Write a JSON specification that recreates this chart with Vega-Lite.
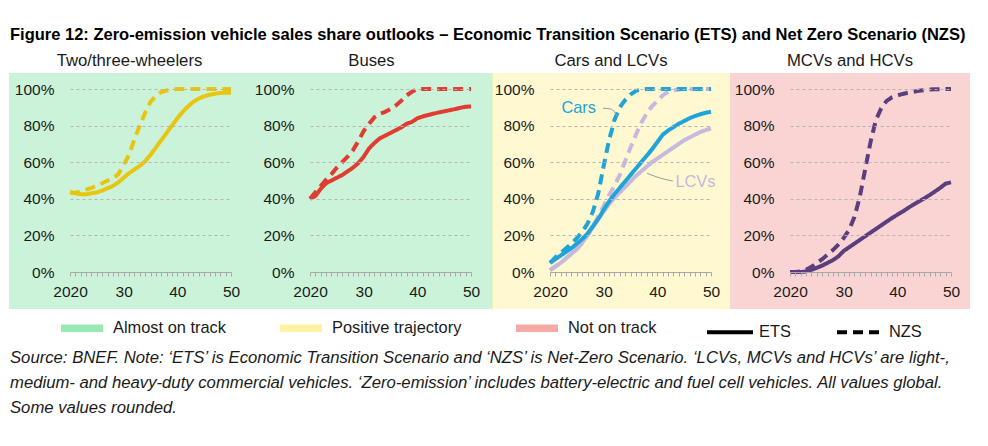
{
  "$schema": "https://vega.github.io/schema/vega-lite/v6.json",
  "background": "white",
  "padding": {"left": 8, "top": 26, "right": 5, "bottom": 5},
  "title": {"text": "Figure 12: Zero-emission vehicle sales share outlooks – Economic Transition Scenario (ETS) and Net Zero Scenario (NZS)", "anchor": "start", "frame": "bounds", "fontSize": 16.5, "fontWeight": "bold", "font": "Liberation Sans", "color": "#000000", "offset": 10, "dx": 1},
  "datasets": {
    "shares": [
      {"series":"Two/three-wheelers","scenario":"ETS","year":2020,"share":43.5},{"series":"Two/three-wheelers","scenario":"ETS","year":2021,"share":43},{"series":"Two/three-wheelers","scenario":"ETS","year":2022,"share":42.5},{"series":"Two/three-wheelers","scenario":"ETS","year":2023,"share":42.5},{"series":"Two/three-wheelers","scenario":"ETS","year":2024,"share":43},{"series":"Two/three-wheelers","scenario":"ETS","year":2025,"share":43.5},{"series":"Two/three-wheelers","scenario":"ETS","year":2026,"share":44.5},{"series":"Two/three-wheelers","scenario":"ETS","year":2027,"share":45.8},{"series":"Two/three-wheelers","scenario":"ETS","year":2028,"share":47},{"series":"Two/three-wheelers","scenario":"ETS","year":2029,"share":49},{"series":"Two/three-wheelers","scenario":"ETS","year":2030,"share":51.5},{"series":"Two/three-wheelers","scenario":"ETS","year":2031,"share":54},{"series":"Two/three-wheelers","scenario":"ETS","year":2032,"share":56},{"series":"Two/three-wheelers","scenario":"ETS","year":2033,"share":58},{"series":"Two/three-wheelers","scenario":"ETS","year":2034,"share":60.5},{"series":"Two/three-wheelers","scenario":"ETS","year":2035,"share":64},{"series":"Two/three-wheelers","scenario":"ETS","year":2036,"share":68},{"series":"Two/three-wheelers","scenario":"ETS","year":2037,"share":72},{"series":"Two/three-wheelers","scenario":"ETS","year":2038,"share":76},{"series":"Two/three-wheelers","scenario":"ETS","year":2039,"share":80},{"series":"Two/three-wheelers","scenario":"ETS","year":2040,"share":84},{"series":"Two/three-wheelers","scenario":"ETS","year":2041,"share":87.5},{"series":"Two/three-wheelers","scenario":"ETS","year":2042,"share":90.5},{"series":"Two/three-wheelers","scenario":"ETS","year":2043,"share":93},{"series":"Two/three-wheelers","scenario":"ETS","year":2044,"share":94.8},{"series":"Two/three-wheelers","scenario":"ETS","year":2045,"share":96},{"series":"Two/three-wheelers","scenario":"ETS","year":2046,"share":96.8},{"series":"Two/three-wheelers","scenario":"ETS","year":2047,"share":97.4},{"series":"Two/three-wheelers","scenario":"ETS","year":2048,"share":97.8},{"series":"Two/three-wheelers","scenario":"ETS","year":2049,"share":98},{"series":"Two/three-wheelers","scenario":"ETS","year":2050,"share":98},
      {"series":"Two/three-wheelers","scenario":"NZS","year":2020,"share":43.5},{"series":"Two/three-wheelers","scenario":"NZS","year":2021,"share":43.3},{"series":"Two/three-wheelers","scenario":"NZS","year":2022,"share":44},{"series":"Two/three-wheelers","scenario":"NZS","year":2023,"share":45},{"series":"Two/three-wheelers","scenario":"NZS","year":2024,"share":46},{"series":"Two/three-wheelers","scenario":"NZS","year":2025,"share":47.2},{"series":"Two/three-wheelers","scenario":"NZS","year":2026,"share":48.5},{"series":"Two/three-wheelers","scenario":"NZS","year":2027,"share":50},{"series":"Two/three-wheelers","scenario":"NZS","year":2028,"share":51},{"series":"Two/three-wheelers","scenario":"NZS","year":2029,"share":53.5},{"series":"Two/three-wheelers","scenario":"NZS","year":2030,"share":58.5},{"series":"Two/three-wheelers","scenario":"NZS","year":2031,"share":64},{"series":"Two/three-wheelers","scenario":"NZS","year":2032,"share":72.5},{"series":"Two/three-wheelers","scenario":"NZS","year":2033,"share":80},{"series":"Two/three-wheelers","scenario":"NZS","year":2034,"share":87},{"series":"Two/three-wheelers","scenario":"NZS","year":2035,"share":93},{"series":"Two/three-wheelers","scenario":"NZS","year":2036,"share":96.3},{"series":"Two/three-wheelers","scenario":"NZS","year":2037,"share":98.3},{"series":"Two/three-wheelers","scenario":"NZS","year":2038,"share":99.2},{"series":"Two/three-wheelers","scenario":"NZS","year":2039,"share":99.7},{"series":"Two/three-wheelers","scenario":"NZS","year":2040,"share":100},{"series":"Two/three-wheelers","scenario":"NZS","year":2050,"share":100},
      {"series":"Buses","scenario":"ETS","year":2020,"share":40},{"series":"Buses","scenario":"ETS","year":2021,"share":41.5},{"series":"Buses","scenario":"ETS","year":2022,"share":45.5},{"series":"Buses","scenario":"ETS","year":2023,"share":48.5},{"series":"Buses","scenario":"ETS","year":2024,"share":50},{"series":"Buses","scenario":"ETS","year":2025,"share":51.5},{"series":"Buses","scenario":"ETS","year":2026,"share":53},{"series":"Buses","scenario":"ETS","year":2027,"share":55},{"series":"Buses","scenario":"ETS","year":2028,"share":57},{"series":"Buses","scenario":"ETS","year":2029,"share":59.5},{"series":"Buses","scenario":"ETS","year":2030,"share":63},{"series":"Buses","scenario":"ETS","year":2031,"share":67.5},{"series":"Buses","scenario":"ETS","year":2032,"share":70.5},{"series":"Buses","scenario":"ETS","year":2033,"share":73},{"series":"Buses","scenario":"ETS","year":2034,"share":74.5},{"series":"Buses","scenario":"ETS","year":2035,"share":76},{"series":"Buses","scenario":"ETS","year":2036,"share":77.5},{"series":"Buses","scenario":"ETS","year":2037,"share":79},{"series":"Buses","scenario":"ETS","year":2038,"share":81},{"series":"Buses","scenario":"ETS","year":2039,"share":82},{"series":"Buses","scenario":"ETS","year":2040,"share":84},{"series":"Buses","scenario":"ETS","year":2041,"share":85},{"series":"Buses","scenario":"ETS","year":2042,"share":85.8},{"series":"Buses","scenario":"ETS","year":2043,"share":86.5},{"series":"Buses","scenario":"ETS","year":2044,"share":87.2},{"series":"Buses","scenario":"ETS","year":2045,"share":87.8},{"series":"Buses","scenario":"ETS","year":2046,"share":88.4},{"series":"Buses","scenario":"ETS","year":2047,"share":89},{"series":"Buses","scenario":"ETS","year":2048,"share":89.7},{"series":"Buses","scenario":"ETS","year":2049,"share":90.3},{"series":"Buses","scenario":"ETS","year":2050,"share":90.5},
      {"series":"Buses","scenario":"NZS","year":2020,"share":40},{"series":"Buses","scenario":"NZS","year":2021,"share":43.5},{"series":"Buses","scenario":"NZS","year":2022,"share":47},{"series":"Buses","scenario":"NZS","year":2023,"share":50.5},{"series":"Buses","scenario":"NZS","year":2024,"share":53.5},{"series":"Buses","scenario":"NZS","year":2025,"share":57},{"series":"Buses","scenario":"NZS","year":2026,"share":60},{"series":"Buses","scenario":"NZS","year":2027,"share":63},{"series":"Buses","scenario":"NZS","year":2028,"share":66.5},{"series":"Buses","scenario":"NZS","year":2029,"share":71.5},{"series":"Buses","scenario":"NZS","year":2030,"share":77},{"series":"Buses","scenario":"NZS","year":2031,"share":81},{"series":"Buses","scenario":"NZS","year":2032,"share":84.5},{"series":"Buses","scenario":"NZS","year":2033,"share":86.5},{"series":"Buses","scenario":"NZS","year":2034,"share":87.5},{"series":"Buses","scenario":"NZS","year":2035,"share":89},{"series":"Buses","scenario":"NZS","year":2036,"share":91},{"series":"Buses","scenario":"NZS","year":2037,"share":93.5},{"series":"Buses","scenario":"NZS","year":2038,"share":96.5},{"series":"Buses","scenario":"NZS","year":2039,"share":98.5},{"series":"Buses","scenario":"NZS","year":2040,"share":100},{"series":"Buses","scenario":"NZS","year":2050,"share":100},
      {"series":"LCVs","scenario":"ETS","year":2020,"share":1},{"series":"LCVs","scenario":"ETS","year":2021,"share":3},{"series":"LCVs","scenario":"ETS","year":2022,"share":5},{"series":"LCVs","scenario":"ETS","year":2023,"share":7.5},{"series":"LCVs","scenario":"ETS","year":2024,"share":10},{"series":"LCVs","scenario":"ETS","year":2025,"share":12.5},{"series":"LCVs","scenario":"ETS","year":2026,"share":16},{"series":"LCVs","scenario":"ETS","year":2027,"share":20},{"series":"LCVs","scenario":"ETS","year":2028,"share":24.5},{"series":"LCVs","scenario":"ETS","year":2029,"share":29},{"series":"LCVs","scenario":"ETS","year":2030,"share":33},{"series":"LCVs","scenario":"ETS","year":2031,"share":37},{"series":"LCVs","scenario":"ETS","year":2032,"share":40.5},{"series":"LCVs","scenario":"ETS","year":2033,"share":43.5},{"series":"LCVs","scenario":"ETS","year":2034,"share":46.5},{"series":"LCVs","scenario":"ETS","year":2035,"share":49.5},{"series":"LCVs","scenario":"ETS","year":2036,"share":52.5},{"series":"LCVs","scenario":"ETS","year":2037,"share":55},{"series":"LCVs","scenario":"ETS","year":2038,"share":57.5},{"series":"LCVs","scenario":"ETS","year":2039,"share":60},{"series":"LCVs","scenario":"ETS","year":2040,"share":62},{"series":"LCVs","scenario":"ETS","year":2041,"share":64},{"series":"LCVs","scenario":"ETS","year":2042,"share":66},{"series":"LCVs","scenario":"ETS","year":2043,"share":68},{"series":"LCVs","scenario":"ETS","year":2044,"share":70},{"series":"LCVs","scenario":"ETS","year":2045,"share":72},{"series":"LCVs","scenario":"ETS","year":2046,"share":73.5},{"series":"LCVs","scenario":"ETS","year":2047,"share":75},{"series":"LCVs","scenario":"ETS","year":2048,"share":76.5},{"series":"LCVs","scenario":"ETS","year":2049,"share":77.5},{"series":"LCVs","scenario":"ETS","year":2050,"share":78.5},
      {"series":"LCVs","scenario":"NZS","year":2020,"share":1},{"series":"LCVs","scenario":"NZS","year":2021,"share":3},{"series":"LCVs","scenario":"NZS","year":2022,"share":5},{"series":"LCVs","scenario":"NZS","year":2023,"share":7.5},{"series":"LCVs","scenario":"NZS","year":2024,"share":10},{"series":"LCVs","scenario":"NZS","year":2025,"share":12.5},{"series":"LCVs","scenario":"NZS","year":2026,"share":16},{"series":"LCVs","scenario":"NZS","year":2027,"share":20.5},{"series":"LCVs","scenario":"NZS","year":2028,"share":25},{"series":"LCVs","scenario":"NZS","year":2029,"share":30.5},{"series":"LCVs","scenario":"NZS","year":2030,"share":36},{"series":"LCVs","scenario":"NZS","year":2031,"share":42},{"series":"LCVs","scenario":"NZS","year":2032,"share":47},{"series":"LCVs","scenario":"NZS","year":2033,"share":53},{"series":"LCVs","scenario":"NZS","year":2034,"share":60.5},{"series":"LCVs","scenario":"NZS","year":2035,"share":68},{"series":"LCVs","scenario":"NZS","year":2036,"share":75},{"series":"LCVs","scenario":"NZS","year":2037,"share":81.5},{"series":"LCVs","scenario":"NZS","year":2038,"share":86.5},{"series":"LCVs","scenario":"NZS","year":2039,"share":90.5},{"series":"LCVs","scenario":"NZS","year":2040,"share":93.5},{"series":"LCVs","scenario":"NZS","year":2041,"share":96.5},{"series":"LCVs","scenario":"NZS","year":2042,"share":98.5},{"series":"LCVs","scenario":"NZS","year":2043,"share":99.3},{"series":"LCVs","scenario":"NZS","year":2044,"share":99.7},{"series":"LCVs","scenario":"NZS","year":2045,"share":100},{"series":"LCVs","scenario":"NZS","year":2050,"share":100},
      {"series":"Cars","scenario":"ETS","year":2020,"share":5},{"series":"Cars","scenario":"ETS","year":2021,"share":7},{"series":"Cars","scenario":"ETS","year":2022,"share":9},{"series":"Cars","scenario":"ETS","year":2023,"share":11},{"series":"Cars","scenario":"ETS","year":2024,"share":13},{"series":"Cars","scenario":"ETS","year":2025,"share":15.5},{"series":"Cars","scenario":"ETS","year":2026,"share":18},{"series":"Cars","scenario":"ETS","year":2027,"share":21},{"series":"Cars","scenario":"ETS","year":2028,"share":25},{"series":"Cars","scenario":"ETS","year":2029,"share":29},{"series":"Cars","scenario":"ETS","year":2030,"share":34},{"series":"Cars","scenario":"ETS","year":2031,"share":38.5},{"series":"Cars","scenario":"ETS","year":2032,"share":42.5},{"series":"Cars","scenario":"ETS","year":2033,"share":46},{"series":"Cars","scenario":"ETS","year":2034,"share":49.5},{"series":"Cars","scenario":"ETS","year":2035,"share":53},{"series":"Cars","scenario":"ETS","year":2036,"share":56.5},{"series":"Cars","scenario":"ETS","year":2037,"share":60},{"series":"Cars","scenario":"ETS","year":2038,"share":63.5},{"series":"Cars","scenario":"ETS","year":2039,"share":67},{"series":"Cars","scenario":"ETS","year":2040,"share":71},{"series":"Cars","scenario":"ETS","year":2041,"share":75},{"series":"Cars","scenario":"ETS","year":2042,"share":77.3},{"series":"Cars","scenario":"ETS","year":2043,"share":79.2},{"series":"Cars","scenario":"ETS","year":2044,"share":81},{"series":"Cars","scenario":"ETS","year":2045,"share":82.5},{"series":"Cars","scenario":"ETS","year":2046,"share":84},{"series":"Cars","scenario":"ETS","year":2047,"share":85.2},{"series":"Cars","scenario":"ETS","year":2048,"share":86.2},{"series":"Cars","scenario":"ETS","year":2049,"share":87},{"series":"Cars","scenario":"ETS","year":2050,"share":87.6},
      {"series":"Cars","scenario":"NZS","year":2020,"share":5},{"series":"Cars","scenario":"NZS","year":2021,"share":8},{"series":"Cars","scenario":"NZS","year":2022,"share":10.5},{"series":"Cars","scenario":"NZS","year":2023,"share":13},{"series":"Cars","scenario":"NZS","year":2024,"share":15.5},{"series":"Cars","scenario":"NZS","year":2025,"share":18.5},{"series":"Cars","scenario":"NZS","year":2026,"share":22},{"series":"Cars","scenario":"NZS","year":2027,"share":26.5},{"series":"Cars","scenario":"NZS","year":2028,"share":33},{"series":"Cars","scenario":"NZS","year":2029,"share":43},{"series":"Cars","scenario":"NZS","year":2030,"share":58},{"series":"Cars","scenario":"NZS","year":2031,"share":72},{"series":"Cars","scenario":"NZS","year":2032,"share":83},{"series":"Cars","scenario":"NZS","year":2033,"share":90},{"series":"Cars","scenario":"NZS","year":2034,"share":94},{"series":"Cars","scenario":"NZS","year":2035,"share":97},{"series":"Cars","scenario":"NZS","year":2036,"share":99},{"series":"Cars","scenario":"NZS","year":2037,"share":99.7},{"series":"Cars","scenario":"NZS","year":2038,"share":100},{"series":"Cars","scenario":"NZS","year":2050,"share":100},
      {"series":"MCVs and HCVs","scenario":"ETS","year":2020,"share":0},{"series":"MCVs and HCVs","scenario":"ETS","year":2021,"share":0},{"series":"MCVs and HCVs","scenario":"ETS","year":2022,"share":0},{"series":"MCVs and HCVs","scenario":"ETS","year":2023,"share":0.3},{"series":"MCVs and HCVs","scenario":"ETS","year":2024,"share":1.2},{"series":"MCVs and HCVs","scenario":"ETS","year":2025,"share":2.3},{"series":"MCVs and HCVs","scenario":"ETS","year":2026,"share":3.5},{"series":"MCVs and HCVs","scenario":"ETS","year":2027,"share":5},{"series":"MCVs and HCVs","scenario":"ETS","year":2028,"share":6.5},{"series":"MCVs and HCVs","scenario":"ETS","year":2029,"share":8.5},{"series":"MCVs and HCVs","scenario":"ETS","year":2030,"share":11.5},{"series":"MCVs and HCVs","scenario":"ETS","year":2031,"share":13.5},{"series":"MCVs and HCVs","scenario":"ETS","year":2032,"share":15.5},{"series":"MCVs and HCVs","scenario":"ETS","year":2033,"share":17.5},{"series":"MCVs and HCVs","scenario":"ETS","year":2034,"share":19.5},{"series":"MCVs and HCVs","scenario":"ETS","year":2035,"share":21.5},{"series":"MCVs and HCVs","scenario":"ETS","year":2036,"share":23.5},{"series":"MCVs and HCVs","scenario":"ETS","year":2037,"share":25.5},{"series":"MCVs and HCVs","scenario":"ETS","year":2038,"share":27.5},{"series":"MCVs and HCVs","scenario":"ETS","year":2039,"share":29.5},{"series":"MCVs and HCVs","scenario":"ETS","year":2040,"share":31.3},{"series":"MCVs and HCVs","scenario":"ETS","year":2041,"share":33},{"series":"MCVs and HCVs","scenario":"ETS","year":2042,"share":35},{"series":"MCVs and HCVs","scenario":"ETS","year":2043,"share":36.8},{"series":"MCVs and HCVs","scenario":"ETS","year":2044,"share":38.5},{"series":"MCVs and HCVs","scenario":"ETS","year":2045,"share":40.2},{"series":"MCVs and HCVs","scenario":"ETS","year":2046,"share":42},{"series":"MCVs and HCVs","scenario":"ETS","year":2047,"share":44},{"series":"MCVs and HCVs","scenario":"ETS","year":2048,"share":46},{"series":"MCVs and HCVs","scenario":"ETS","year":2049,"share":48.3},{"series":"MCVs and HCVs","scenario":"ETS","year":2050,"share":49},
      {"series":"MCVs and HCVs","scenario":"NZS","year":2020,"share":0},{"series":"MCVs and HCVs","scenario":"NZS","year":2021,"share":0},{"series":"MCVs and HCVs","scenario":"NZS","year":2022,"share":0.3},{"series":"MCVs and HCVs","scenario":"NZS","year":2023,"share":1.2},{"series":"MCVs and HCVs","scenario":"NZS","year":2024,"share":2.8},{"series":"MCVs and HCVs","scenario":"NZS","year":2025,"share":5},{"series":"MCVs and HCVs","scenario":"NZS","year":2026,"share":7},{"series":"MCVs and HCVs","scenario":"NZS","year":2027,"share":9.5},{"series":"MCVs and HCVs","scenario":"NZS","year":2028,"share":12},{"series":"MCVs and HCVs","scenario":"NZS","year":2029,"share":15},{"series":"MCVs and HCVs","scenario":"NZS","year":2030,"share":18.5},{"series":"MCVs and HCVs","scenario":"NZS","year":2031,"share":23},{"series":"MCVs and HCVs","scenario":"NZS","year":2032,"share":30},{"series":"MCVs and HCVs","scenario":"NZS","year":2033,"share":41},{"series":"MCVs and HCVs","scenario":"NZS","year":2034,"share":56},{"series":"MCVs and HCVs","scenario":"NZS","year":2035,"share":71},{"series":"MCVs and HCVs","scenario":"NZS","year":2036,"share":83},{"series":"MCVs and HCVs","scenario":"NZS","year":2037,"share":89.5},{"series":"MCVs and HCVs","scenario":"NZS","year":2038,"share":93.5},{"series":"MCVs and HCVs","scenario":"NZS","year":2039,"share":95.5},{"series":"MCVs and HCVs","scenario":"NZS","year":2040,"share":96.5},{"series":"MCVs and HCVs","scenario":"NZS","year":2041,"share":97.3},{"series":"MCVs and HCVs","scenario":"NZS","year":2042,"share":98},{"series":"MCVs and HCVs","scenario":"NZS","year":2043,"share":98.5},{"series":"MCVs and HCVs","scenario":"NZS","year":2044,"share":99},{"series":"MCVs and HCVs","scenario":"NZS","year":2045,"share":99.4},{"series":"MCVs and HCVs","scenario":"NZS","year":2046,"share":99.7},{"series":"MCVs and HCVs","scenario":"NZS","year":2047,"share":99.8},{"series":"MCVs and HCVs","scenario":"NZS","year":2050,"share":100}
    ],
    "labels": [
      {"label": "Cars", "year": 2025.35, "share": 89.4},
      {"label": "LCVs", "year": 2047.1, "share": 49.3}
    ],
    "leaders": [
      {"leader": "Cars", "year": 2029.9, "share": 89.5},
      {"leader": "Cars", "year": 2031.4, "share": 89.0},
      {"leader": "Cars", "year": 2032.5, "share": 85.2},
      {"leader": "LCVs", "year": 2038.1, "share": 53.9},
      {"leader": "LCVs", "year": 2040.7, "share": 51.2},
      {"leader": "LCVs", "year": 2042.9, "share": 49.7}
    ]
  },
  "vconcat": [
    {
      "hconcat": [
        {
          "width": 161, "height": 183,
          "title": "Two/three-wheelers",
          "layer": [
            {"data": {"values": [{"status": "Almost on track"}]}, "mark": {"type": "rect", "opacity": 0.5},
             "encoding": {"x": {"datum": 2008.63, "type": "quantitative"}, "x2": {"datum": 2053.54}, "y": {"datum": -20.2, "type": "quantitative"}, "y2": {"datum": 108.74},
               "fill": {"field": "status", "type": "nominal", "scale": {"domain": ["Almost on track", "Positive trajectory", "Not on track"], "range": ["#98e8b4", "#fff1a4", "#f5aaa6"]},
                 "legend": {"orient": "none", "legendX": -9, "legendY": 218, "direction": "horizontal", "title": null, "symbolType": "M-1,-0.18H1V0.18H-1Z", "symbolSize": 1764, "symbolStrokeWidth": 0, "symbolOpacity": 1, "labelOffset": 10, "columnPadding": 54, "labelFontSize": 16.4, "labelFont": "Liberation Sans", "labelColor": "#1a1a1a", "encode": {"symbols": {"update": {"opacity": {"value": 1}}}}}}}},
            {"data": {"name": "shares"}, "transform": [{"filter": {"field": "series", "equal": "Two/three-wheelers"}}],
             "mark": {"type": "line", "strokeWidth": 4},
             "encoding": {"x": {"field": "year", "type": "quantitative", "scale": {"domain": [2020, 2050], "nice": false, "zero": false}, "axis": {"title": null, "zindex": 2}},
               "y": {"field": "share", "type": "quantitative", "scale": {"domain": [0, 100], "nice": false}, "axis": {"title": null, "zindex": 2}},
               "stroke": {"field": "series", "type": "nominal", "scale": {"domain": ["Two/three-wheelers", "Buses", "Cars", "LCVs", "MCVs and HCVs"], "range": ["#e8c60f", "#e03c31", "#1ea4d8", "#c6b9db", "#5b3e7e"]}, "legend": null},
               "strokeDash": {"field": "scenario", "type": "nominal", "scale": {"domain": ["ETS", "NZS"], "range": [[1, 0], [10, 6]]},
                 "legend": {"orient": "none", "legendX": 635, "legendY": 218, "direction": "horizontal", "title": null, "symbolType": "stroke", "symbolSize": 2116, "symbolStrokeWidth": 4, "symbolStrokeColor": "#000000", "labelOffset": 4, "columnPadding": 38, "labelFontSize": 16.4, "labelFont": "Liberation Sans", "labelColor": "#1a1a1a", "encode": {"symbols": {"update": {"stroke": {"value": "#000000"}, "opacity": {"value": 1}}}}}}}}
          ]
        },
        {
          "width": 161, "height": 183,
          "title": "Buses",
          "layer": [
            {"data": {"values": [{"status": "Almost on track"}]}, "mark": {"type": "rect", "opacity": 0.5},
             "encoding": {"x": {"datum": 2008.82, "type": "quantitative"}, "x2": {"datum": 2054.1}, "y": {"datum": -20.2, "type": "quantitative"}, "y2": {"datum": 108.74},
               "fill": {"field": "status", "type": "nominal"}}},
            {"data": {"name": "shares"}, "transform": [{"filter": {"field": "series", "equal": "Buses"}}],
             "mark": {"type": "line", "strokeWidth": 4},
             "encoding": {"x": {"field": "year", "type": "quantitative", "scale": {"domain": [2020, 2050], "nice": false, "zero": false}, "axis": {"title": null, "zindex": 2}},
               "y": {"field": "share", "type": "quantitative", "scale": {"domain": [0, 100], "nice": false}, "axis": {"title": null, "zindex": 2}},
               "stroke": {"field": "series", "type": "nominal", "legend": null},
               "strokeDash": {"field": "scenario", "type": "nominal"}}}
          ]
        },
        {
          "width": 161, "height": 183,
          "title": "Cars and LCVs",
          "layer": [
            {"data": {"values": [{"status": "Positive trajectory"}]}, "mark": {"type": "rect", "opacity": 0.5},
             "encoding": {"x": {"datum": 2009.19, "type": "quantitative"}, "x2": {"datum": 2053.54}, "y": {"datum": -20.2, "type": "quantitative"}, "y2": {"datum": 108.74},
               "fill": {"field": "status", "type": "nominal"}}},
            {"data": {"name": "shares"}, "transform": [{"filter": {"field": "series", "oneOf": ["LCVs", "Cars"]}}],
             "mark": {"type": "line", "strokeWidth": 4},
             "encoding": {"x": {"field": "year", "type": "quantitative", "scale": {"domain": [2020, 2050], "nice": false, "zero": false}, "axis": {"title": null, "zindex": 2}},
               "y": {"field": "share", "type": "quantitative", "scale": {"domain": [0, 100], "nice": false}, "axis": {"title": null, "zindex": 2}},
               "stroke": {"field": "series", "type": "nominal", "legend": null},
               "strokeDash": {"field": "scenario", "type": "nominal"}}},
            {"data": {"name": "leaders"}, "mark": {"type": "line", "color": "#9a9a9a", "strokeWidth": 1, "interpolate": "monotone"},
             "encoding": {"x": {"field": "year", "type": "quantitative"}, "y": {"field": "share", "type": "quantitative"}, "detail": {"field": "leader"}}},
            {"data": {"name": "labels"}, "transform": [{"filter": {"field": "label", "equal": "Cars"}}], "mark": {"type": "text", "color": "#1ea4d8", "fontSize": 16.4, "font": "Liberation Sans", "align": "center", "baseline": "middle"},
             "encoding": {"x": {"field": "year", "type": "quantitative"}, "y": {"field": "share", "type": "quantitative"}, "text": {"field": "label"}}},
            {"data": {"name": "labels"}, "transform": [{"filter": {"field": "label", "equal": "LCVs"}}], "mark": {"type": "text", "color": "#c6b9db", "fontSize": 16.4, "font": "Liberation Sans", "align": "center", "baseline": "middle"},
             "encoding": {"x": {"field": "year", "type": "quantitative"}, "y": {"field": "share", "type": "quantitative"}, "text": {"field": "label"}}}
          ]
        },
        {
          "width": 161, "height": 183,
          "title": "MCVs and HCVs",
          "layer": [
            {"data": {"values": [{"status": "Not on track"}]}, "mark": {"type": "rect", "opacity": 0.5},
             "encoding": {"x": {"datum": 2008.82, "type": "quantitative"}, "x2": {"datum": 2053.54}, "y": {"datum": -20.2, "type": "quantitative"}, "y2": {"datum": 108.74},
               "fill": {"field": "status", "type": "nominal"}}},
            {"data": {"name": "shares"}, "transform": [{"filter": {"field": "series", "equal": "MCVs and HCVs"}}],
             "mark": {"type": "line", "strokeWidth": 4},
             "encoding": {"x": {"field": "year", "type": "quantitative", "scale": {"domain": [2020, 2050], "nice": false, "zero": false}, "axis": {"title": null, "zindex": 2}},
               "y": {"field": "share", "type": "quantitative", "scale": {"domain": [0, 100], "nice": false}, "axis": {"title": null, "zindex": 2}},
               "stroke": {"field": "series", "type": "nominal", "legend": null},
               "strokeDash": {"field": "scenario", "type": "nominal"}}}
          ]
        }
      ],
      "spacing": 79,
      "bounds": "flush",
      "title": {"text": ["Source: BNEF. Note: ‘ETS’ is Economic Transition Scenario and ‘NZS’ is Net-Zero Scenario. ‘LCVs, MCVs and HCVs’ are light-,", "medium- and heavy-duty commercial vehicles. ‘Zero-emission’ includes battery-electric and fuel cell vehicles. All values global.", "Some values rounded."], "orient": "bottom", "anchor": "start", "frame": "bounds", "fontStyle": "italic", "fontWeight": "normal", "fontSize": 16.7, "lineHeight": 25, "offset": 41, "dx": 1, "color": "#1a1a1a", "font": "Liberation Sans"}
    }
  ],
  "config": {
    "font": "Liberation Sans",
    "view": {"stroke": null},
    "title": {"fontSize": 16.7, "fontWeight": "normal", "color": "#1a1a1a", "font": "Liberation Sans", "frame": "bounds", "anchor": "middle", "offset": 3},
    "axis": {"labelFont": "Liberation Sans", "labelFontSize": 15.5, "labelColor": "#1a1a1a", "zindex": 2},
    "axisX": {"tickCount": 30, "grid": false, "tickSize": 4, "tickColor": "#a8a8a8", "domainColor": "#a8a8a8", "labelPadding": 8, "labelOverlap": false, "labelFlush": false, "labelExpr": "datum.value == 2020 ? '2020' : (datum.value % 10 == 0 ? slice(toString(datum.value), 2) : '')"},
    "axisY": {"tickCount": 5, "grid": true, "gridDash": [3, 3], "gridColor": "#b4b4b4", "domain": false, "ticks": false, "labelPadding": 16, "labelExpr": "datum.value + '%'"}
  }
}
